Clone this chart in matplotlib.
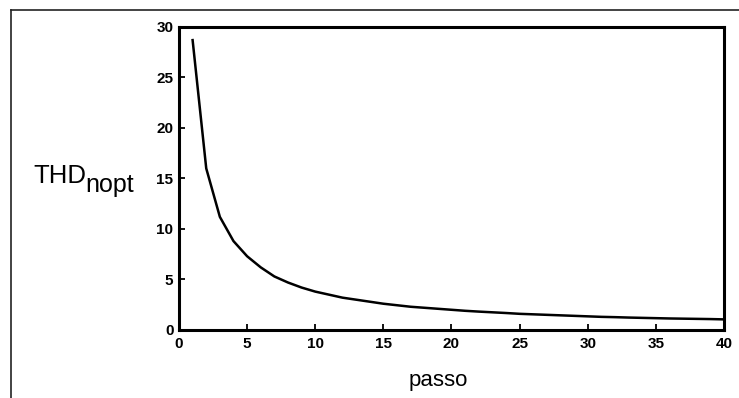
import matplotlib
matplotlib.use("Agg")
import matplotlib.pyplot as plt
from matplotlib.lines import Line2D

plt.rcParams['font.family'] = ['Liberation Sans', 'DejaVu Sans']

# dati
passo = list(range(1, 41))
thd = [28.7, 16.0, 11.2, 8.8, 7.3, 6.2, 5.3, 4.7, 4.2, 3.8,
       3.5, 3.2, 3.0, 2.8, 2.6, 2.45, 2.3, 2.2, 2.1, 2.0,
       1.9, 1.82, 1.75, 1.68, 1.6, 1.55, 1.5, 1.45, 1.4, 1.35,
       1.3, 1.27, 1.23, 1.2, 1.17, 1.14, 1.12, 1.1, 1.08, 1.05]
xticks = [0, 5, 10, 15, 20, 25, 30, 35, 40]
yticks = [0, 5, 10, 15, 20, 25, 30]

fig = plt.figure(figsize=(7.39, 3.98), dpi=100)
ax = fig.add_axes([0.2422, 0.1709, 0.7375, 0.7613])

ax.plot(passo, thd, color='black', linewidth=1.8)
ax.set_xlim(0, 40)
ax.set_ylim(0, 30)
ax.set_xticks(xticks)
ax.set_yticks(yticks)
ax.tick_params(direction='in', length=4, width=1.3, labelsize=11,
               top=False, right=False)
ax.tick_params(axis='x', pad=5)
ax.tick_params(axis='y', pad=4)
for lab in ax.get_xticklabels() + ax.get_yticklabels():
    lab.set_fontweight('bold')
for s in ax.spines.values():
    s.set_linewidth(2.2)

# etichette (pedice quasi grande come il testo, come nell'originale)
fig.text(33/739, 1 - 183/398, 'THD', fontsize=18.5, ha='left', va='baseline')
fig.text(85/739, 1 - 192/398, 'nopt', fontsize=18, ha='left', va='baseline')
fig.text(0.593, 0.045, 'passo', fontsize=16, ha='center', va='center')

# cornice esterna
fig.add_artist(Line2D([11/739, 1], [1 - 10/398, 1 - 10/398], color='#222222', linewidth=1.2))
fig.add_artist(Line2D([11/739, 11/739], [0, 1 - 10/398], color='#222222', linewidth=1.2))

fig.savefig('out.png', dpi=100)
